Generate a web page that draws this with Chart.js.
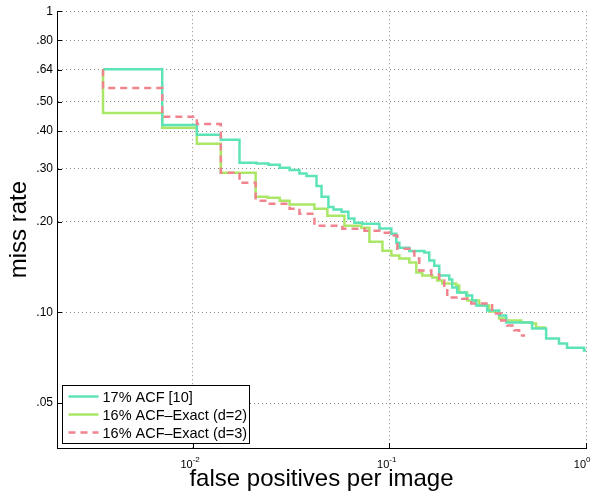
<!DOCTYPE html>
<html>
<head>
<meta charset="utf-8">
<script src="https://cdn.jsdelivr.net/npm/chart.js@4"></script>
<style>
  html, body { margin: 0; padding: 0; background: #fff; }
</style>
</head>
<body>
<canvas id="rocChart" width="597" height="499"></canvas>
<script>
// axis ticks
const xTicks = [0.01, 0.1, 1];
const xTickExp = ['-2', '-1', '0'];
const yTicks = [0.05, 0.1, 0.2, 0.3, 0.4, 0.5, 0.64, 0.8, 1];
const yTickLabels = ['.05', '.10', '.20', '.30', '.40', '.50', '.64', '.80', '1'];

const seriesNames = ['17% ACF [10]', '16% ACF\u2013Exact (d=2)', '16% ACF\u2013Exact (d=3)'];

// 17% ACF [10]
const acfX = [0.0035, 0.0070, 0.0105, 0.0139, 0.0173, 0.0211, 0.0243, 0.0277, 0.0311, 0.0349, 0.0379, 0.0426, 0.0452, 0.0490, 0.0520, 0.0571, 0.0619, 0.0664, 0.0729, 0.0890, 0.1024, 0.1085, 0.1124, 0.1264, 0.1506, 0.1596, 0.1692, 0.1794, 0.2016, 0.2088, 0.2213, 0.2460, 0.2638, 0.2765, 0.3145, 0.3617, 0.3926, 0.532, 0.627, 0.729, 0.801, 0.977, 1.0];
const acfY = [0.642, 0.419, 0.389, 0.374, 0.314, 0.312, 0.309, 0.302, 0.297, 0.289, 0.284, 0.263, 0.242, 0.224, 0.2195, 0.216, 0.205, 0.1986, 0.197, 0.190, 0.1826, 0.1705, 0.164, 0.160, 0.158, 0.1486, 0.143, 0.1326, 0.1286, 0.121, 0.1165, 0.1138, 0.1096, 0.1055, 0.1015, 0.0977, 0.0926, 0.0885, 0.082, 0.0789, 0.0764, 0.0748, 0.0748];

// 16% ACF-Exact (d=2)
const exact2X = [0.0035, 0.0035, 0.0070, 0.0105, 0.0139, 0.0209, 0.0240, 0.0277, 0.0311, 0.0416, 0.0484, 0.0591, 0.0721, 0.0792, 0.0922, 0.1024, 0.1124, 0.1264, 0.1371, 0.147, 0.1653, 0.1753, 0.1858, 0.2188, 0.2266, 0.2488, 0.2863, 0.3218, 0.3617, 0.3926, 0.4678, 0.532, 0.557, 0.627];
const exact2Y = [0.642, 0.459, 0.410, 0.363, 0.291, 0.242, 0.2404, 0.235, 0.2282, 0.2211, 0.2096, 0.1941, 0.1912, 0.1718, 0.1604, 0.1544, 0.1509, 0.1464, 0.1357, 0.1326, 0.1306, 0.1276, 0.1247, 0.1228, 0.1165, 0.1096, 0.1055, 0.1008, 0.0955, 0.0941, 0.0926, 0.0919, 0.0892, 0.0892];

// 16% ACF-Exact (d=3)
const exact3X = [0.0035, 0.0035, 0.0070, 0.0105, 0.0139, 0.0173, 0.0209, 0.0240, 0.0311, 0.0349, 0.0416, 0.0577, 0.0747, 0.0890, 0.1, 0.1098, 0.1264, 0.134, 0.142, 0.1634, 0.1794, 0.1902, 0.1970, 0.2348, 0.2608, 0.3333, 0.3703, 0.3972, 0.431, 0.4569, 0.490];
const exact3Y = [0.642, 0.556, 0.446, 0.422, 0.291, 0.2694, 0.235, 0.2296, 0.2211, 0.2128, 0.1941, 0.1897, 0.1868, 0.184, 0.1799, 0.1628, 0.1592, 0.1509, 0.1377, 0.1336, 0.1276, 0.1201, 0.112, 0.1111, 0.1071, 0.0992, 0.0941, 0.0905, 0.0872, 0.0839, 0.0839];

const font = '"Liberation Sans", Arial, Helvetica, sans-serif';

function toPoints(xs, ys) {
  return xs.map((x, i) => ({ x: x, y: ys[i] }));
}

// tick marks, x tick labels with exponents, and the boxed legend
const overlay = {
  id: 'overlay',
  afterDraw(chart) {
    const ctx = chart.ctx;
    const xs = chart.scales.x, ys = chart.scales.y, a = chart.chartArea;
    ctx.save();
    ctx.strokeStyle = '#000';
    ctx.lineWidth = 1;
    ctx.beginPath();
    yTicks.forEach(v => {
      const py = Math.round(ys.getPixelForValue(v)) + 0.5;
      ctx.moveTo(a.left, py);
      ctx.lineTo(a.left + 5, py);
    });
    xTicks.forEach(v => {
      const px = Math.round(xs.getPixelForValue(v)) + 0.5;
      ctx.moveTo(px, a.bottom);
      ctx.lineTo(px, a.bottom - 5);
    });
    ctx.stroke();

    ctx.fillStyle = '#000';
    ctx.textBaseline = 'alphabetic';
    xTicks.forEach((v, i) => {
      const px = xs.getPixelForValue(v);
      ctx.font = '11px ' + font;
      ctx.textAlign = 'right';
      ctx.fillText('10', px, a.bottom + 20);
      ctx.font = '8px ' + font;
      ctx.textAlign = 'left';
      ctx.fillText(xTickExp[i], px, a.bottom + 14);
    });

    // legend box
    const bx = a.left + 5.5, bw = 187, bh = 58;
    const by = a.bottom - 4.5 - bh;
    ctx.fillStyle = '#fff';
    ctx.fillRect(bx, by, bw, bh);
    ctx.strokeRect(bx, by, bw, bh);
    const rows = [11, 29, 47];
    chart.data.datasets.forEach((ds, i) => {
      const ry = by + rows[i];
      ctx.strokeStyle = ds.borderColor;
      ctx.lineWidth = 2.5;
      ctx.setLineDash(ds.borderDash || []);
      ctx.beginPath();
      ctx.moveTo(bx + 6, ry);
      ctx.lineTo(bx + 36, ry);
      ctx.stroke();
      ctx.setLineDash([]);
      ctx.fillStyle = '#000';
      ctx.font = '14.5px ' + font;
      ctx.textAlign = 'left';
      ctx.textBaseline = 'middle';
      ctx.fillText(ds.label, bx + 40, ry + 1);
    });
    ctx.restore();
  }
};

const ctx = document.getElementById('rocChart').getContext('2d');

const rocChart = new Chart(ctx, {
  type: 'line',
  data: {
    datasets: [
      {
        label: seriesNames[0],
        data: toPoints(acfX, acfY),
        borderColor: '#5ee3b9',
        borderWidth: 2.5,
        stepped: 'before',
        pointRadius: 0,
        order: 1
      },
      {
        label: seriesNames[1],
        data: toPoints(exact2X, exact2Y),
        borderColor: '#abe766',
        borderWidth: 2.5,
        stepped: 'before',
        pointRadius: 0,
        order: 2
      },
      {
        label: seriesNames[2],
        data: toPoints(exact3X, exact3Y),
        borderColor: '#f0848e',
        borderWidth: 2.5,
        borderDash: [7, 5],
        stepped: 'before',
        pointRadius: 0,
        order: 0
      }
    ]
  },
  options: {
    responsive: false,
    animation: false,
    layout: { padding: { top: 10, right: 11, bottom: 0, left: 0 } },
    plugins: {
      legend: { display: false },
      tooltip: { enabled: false }
    },
    scales: {
      x: {
        type: 'logarithmic',
        min: Math.pow(10, -2.69),
        max: 1,
        afterBuildTicks: scale => { scale.ticks = xTicks.map(v => ({ value: v })); },
        afterFit: scale => { scale.height = 51; },
        ticks: { display: false },
        grid: { color: 'rgba(0,0,0,0.45)', drawTicks: false },
        border: { color: '#000', width: 1, dash: [1, 3] },
        title: {
          display: true,
          text: 'false positives per image',
          color: '#000',
          font: { family: font, size: 24 },
          padding: { top: 0, bottom: 5 }
        }
      },
      y: {
        type: 'logarithmic',
        min: Math.pow(10, -1.45),
        max: 1,
        afterBuildTicks: scale => { scale.ticks = yTicks.map(v => ({ value: v })); },
        afterFit: scale => { scale.width = 57; },
        ticks: {
          autoSkip: false,
          padding: 4,
          color: '#000',
          font: { family: font, size: 12 },
          callback: v => {
            const i = yTicks.findIndex(t => Math.abs(t - v) < 1e-9);
            return i >= 0 ? yTickLabels[i] : '';
          }
        },
        grid: { color: 'rgba(0,0,0,0.45)', drawTicks: false },
        border: { color: '#000', width: 1, dash: [1, 3] },
        title: {
          display: true,
          text: 'miss rate',
          color: '#000',
          font: { family: font, size: 24 },
          padding: { top: 5, bottom: 0 }
        }
      }
    }
  },
  plugins: [overlay]
});
</script>
</body>
</html>
